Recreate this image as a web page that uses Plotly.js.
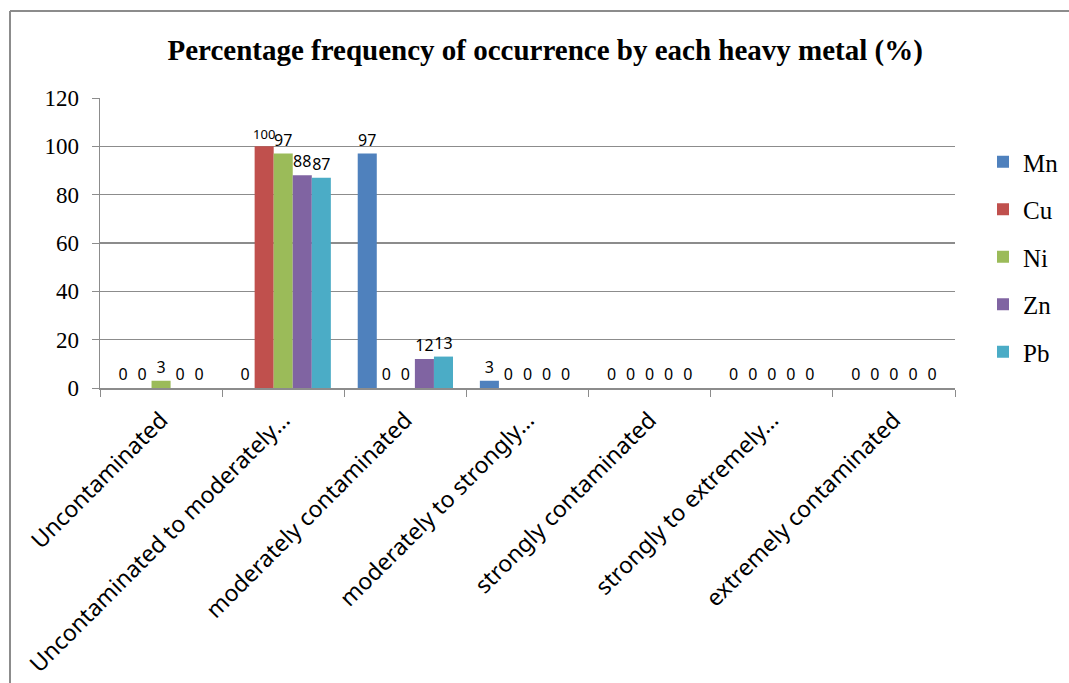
<!DOCTYPE html>
<html>
<head>
<meta charset="utf-8">
<script src="https://cdn.plot.ly/plotly-3.0.1.min.js"></script>
<style>html,body{margin:0;padding:0;background:#fff;}#chart{width:1069px;height:683px;}</style>
</head>
<body>
<div id="chart"></div>
<script>
var categories = [
  "Uncontaminated",
  "Uncontaminated to moderately…",
  "moderately contaminated",
  "moderately to strongly…",
  "strongly contaminated",
  "strongly to extremely…",
  "extremely contaminated"
];
var seriesNames = ["Mn", "Cu", "Ni", "Zn", "Pb"];
var Mn = [0, 0, 97, 3, 0, 0, 0];
var Cu = [0, 100, 0, 0, 0, 0, 0];
var Ni = [3, 97, 0, 0, 0, 0, 0];
var Zn = [0, 88, 12, 0, 0, 0, 0];
var Pb = [0, 87, 13, 0, 0, 0, 0];
var yTicks = [0, 20, 40, 60, 80, 100, 120];

var seriesValues = [Mn, Cu, Ni, Zn, Pb];
var colors = ["#4F81BD", "#C0504D", "#9BBB59", "#8064A2", "#4BACC6"];

var traces = seriesNames.map(function (name, i) {
  var vals = seriesValues[i];
  // three-digit labels are set a little smaller so they crowd their neighbours less
  var sizes = vals.map(function (v) { return String(v).length > 2 ? 13 : 16; });
  return {
    type: "bar",
    name: name,
    x: categories,
    y: vals,
    marker: { color: colors[i] },
    text: vals.map(String),
    textposition: "outside",
    constraintext: "none",
    cliponaxis: false,
    textfont: { family: "Noto Sans, sans-serif", size: sizes, color: "#000" },
    legendgroup: name,
    hoverinfo: "x+y+name"
  };
});

var frameColor = "#8c8c8c";
var layout = {
  width: 1069,
  height: 683,
  paper_bgcolor: "#fff",
  plot_bgcolor: "#fff",
  barmode: "group",
  bargap: 0.22,
  bargroupgap: 0,
  margin: { l: 100, r: 114, t: 98, b: 295 },
  title: {
    text: "<b>Percentage frequency of occurrence by each heavy metal (%)</b>",
    font: { family: "Liberation Serif, Times New Roman, serif", size: 29, color: "#000" },
    x: 0.51,
    xanchor: "center",
    y: 1 - 50 / 683,
    yanchor: "middle"
  },
  xaxis: {
    type: "category",
    tickangle: -45,
    tickson: "boundaries",
    ticks: "outside",
    ticklen: 7,
    tickcolor: frameColor,
    ticklabelstandoff: 8,
    showline: true,
    linecolor: frameColor,
    linewidth: 1.5,
    showgrid: false,
    tickfont: { family: "Noto Sans, sans-serif", size: 23, color: "#000" },
    automargin: false
  },
  yaxis: {
    range: [0, 120],
    tickvals: yTicks,
    ticktext: yTicks.map(String),
    ticks: "outside",
    ticklen: 7,
    tickcolor: frameColor,
    ticklabelstandoff: 8,
    showline: true,
    linecolor: frameColor,
    linewidth: 1.5,
    showgrid: true,
    gridcolor: frameColor,
    gridwidth: 1.2,
    zeroline: false,
    tickfont: { family: "Liberation Serif, Times New Roman, serif", size: 23, color: "#000" },
    automargin: false
  },
  legend: {
    xref: "container",
    yref: "container",
    x: 983 / 1069,
    xanchor: "left",
    y: 1 - 139 / 683,
    yanchor: "top",
    font: { family: "Liberation Serif, Times New Roman, serif", size: 25, color: "#000" },
    tracegroupgap: 12,
    itemwidth: 30,
    bgcolor: "rgba(0,0,0,0)"
  },
  shapes: [
    { type: "line", xref: "paper", yref: "paper", x0: (10 - 100) / 855, x1: (10 - 100) / 855, y0: (388 - 11) / 290, y1: (388 - 690) / 290, line: { color: frameColor, width: 2 } },
    { type: "line", xref: "paper", yref: "paper", x0: (10 - 100) / 855, x1: (1075 - 100) / 855, y0: (388 - 11) / 290, y1: (388 - 11) / 290, line: { color: frameColor, width: 2 } }
  ],
  showlegend: true
};

Plotly.newPlot("chart", traces, layout, { displayModeBar: false, staticPlot: true });
</script>
</body>
</html>
